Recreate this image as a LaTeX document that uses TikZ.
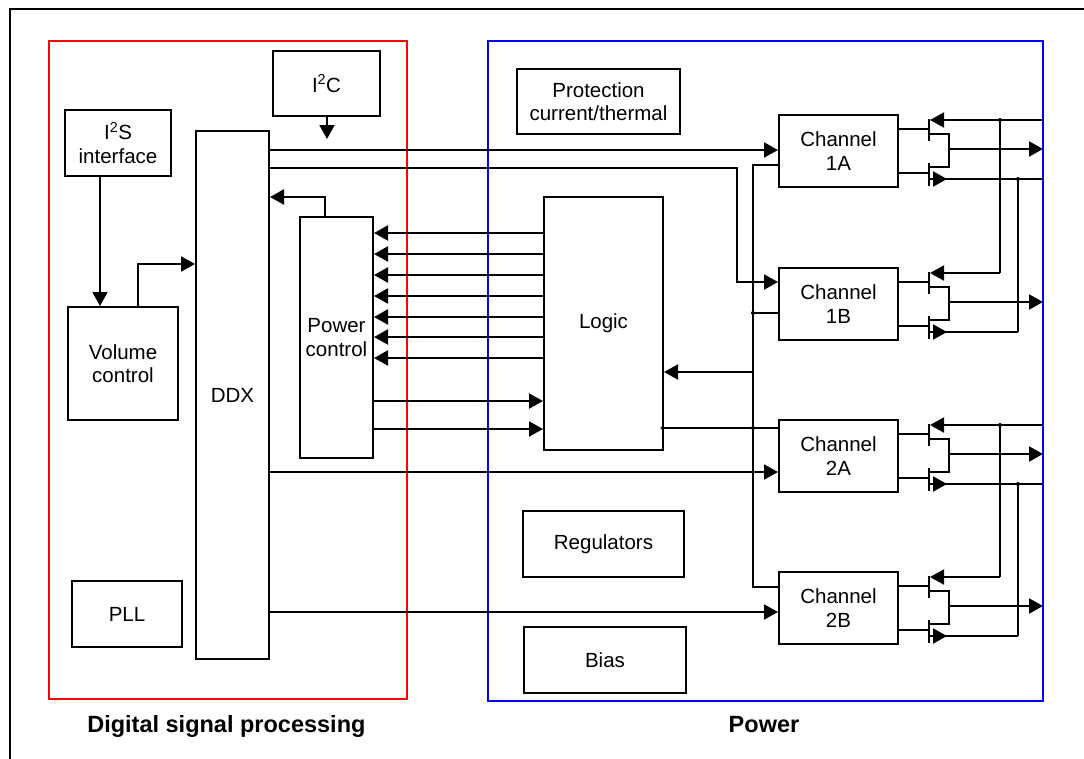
\documentclass[tikz,border=0pt]{standalone}
\usepackage{fontspec}
\setmainfont{Liberation Sans}
\usetikzlibrary{arrows.meta}
\definecolor{dspred}{RGB}{255,0,0}
\definecolor{pwrblue}{RGB}{0,0,255}
\newcommand\bx[6]{\node[box, minimum width={(#4-#2)*1pt}, minimum height={(#5-#3)*1pt}] (#1) at ({(#2+#4)/2},{(#3+#5)/2}) {#6};}
\newcommand\mospair[4]{%
\begin{scope}[shift={(0,#2)}]
 \draw (#1.east |- 0,14) -- (929,14);
 \draw (929,4) -- (929,26);
 \draw[arr] (#3,5) -- (930,5);
 \draw (929,19) -| (949,52) -- (929,52);
 \draw[arr] (949,34) -- (1043,34);
 \draw (#1.east |- 0,58) -- (929,58);
 \draw (929,48) -- (929,71);
 \draw[arr] (930,64) -- (947,64);
 \draw (945,64) -- (#4,64);
\end{scope}}
\begin{document}
\begin{tikzpicture}[x=1pt,y=-1pt, line width=2pt,
  box/.style={draw, line width=2pt, inner sep=0pt, align=center, font=\fontsize{20.5}{23.5}\selectfont},
  arr/.style={-{Triangle[length=14pt,width=15pt]}},
  lbl/.style={font=\bfseries\fontsize{23.5}{28}\selectfont}]
\useasboundingbox (0,0) rectangle (1084,758);
% outer frame
\draw (10,760) -- (10,9) -- (1086,9);
% regions
\draw[dspred] (49,41) rectangle (407,699);
\draw[pwrblue] (488,41) rectangle (1043,701);
\node[lbl, anchor=base] (dsplbl) at (226.4,732) {Digital signal processing};
\node[lbl, anchor=base] (pwrlbl) at (764,732) {Power};
% boxes
\bx{i2c}{273}{51}{380}{116}{I\textsuperscript{2}C}
\bx{i2s}{65}{110}{171}{176}{I\textsuperscript{2}S\\interface}
\bx{vol}{68}{307}{178}{420}{Volume\\control}
\bx{ddx}{196}{131}{269}{659}{DDX}
\bx{pll}{72}{581}{182}{647}{PLL}
\bx{pwr}{300}{217}{373}{458}{Power\\control}
\bx{prot}{517}{69}{680}{134}{Protection\\current/thermal}
\bx{logic}{544}{197}{663}{450}{Logic}
\bx{reg}{523}{511}{684}{577}{Regulators}
\bx{bias}{524}{627}{686}{693}{Bias}
\bx{ch1a}{779}{115}{898}{187}{Channel\\1A}
\bx{ch1b}{779}{268}{898}{340}{Channel\\1B}
\bx{ch2a}{779}{420}{898}{492}{Channel\\2A}
\bx{ch2b}{779}{572}{898}{644}{Channel\\2B}
% DSP connections
\coordinate (i2ctip) at (327,139);
\draw[arr] (i2c.south -| 327,0) -- (i2ctip);
\draw[arr] (i2s.south -| 100,0) -- (vol.north -| 100,0);
\draw[arr] (vol.north -| 138,0) |- (ddx.west |- 0,264);
\draw[arr] (pwr.north -| 325,0) |- (ddx.east |- 0,197);
% DDX to channels
\draw[arr] (ddx.east |- 0,150) -- (ch1a.west |- 0,150);
\draw[arr] (ddx.east |- 0,168) -| (737,282) -- (ch1b.west |- 0,282);
\draw[arr] (ddx.east |- 0,472) -- (ch2a.west |- 0,472);
\draw[arr] (ddx.east |- 0,612) -- (ch2b.west |- 0,612);
% logic <-> power control
\foreach \yy in {233,254,275,296,317,337,358}
  \draw[arr] (logic.west |- 0,\yy) -- (pwr.east |- 0,\yy);
\foreach \yy in {401,429}
  \draw[arr] (pwr.east |- 0,\yy) -- (logic.west |- 0,\yy);
% channel bus
\draw (ch1a.west |- 0,165) -| (753,587) -- (ch2b.west |- 0,587);
\draw (753,313) -- (ch1b.west |- 0,313);
\draw[arr] (753,372) -- (logic.east |- 0,372);
\draw (logic.east |- 0,428) -- (ch2a.west |- 0,428);
\fill (753,313) circle[radius=2pt];
\fill (753,428) circle[radius=2pt];
\fill (662,428) circle[radius=1.6pt];
% output stages
\mospair{ch1a}{115}{1043}{1043}
\mospair{ch1b}{268}{1000}{1018}
\mospair{ch2a}{420}{1043}{1043}
\mospair{ch2b}{572}{1000}{1018}
\draw (1000,120) -- (1000,273);
\draw (1018,179) -- (1018,332);
\draw (1000,425) -- (1000,577);
\draw (1018,484) -- (1018,636);
\fill (1000,120) circle[radius=2pt];
\fill (1018,179) circle[radius=2pt];
\fill (1000,425) circle[radius=2pt];
\fill (1018,484) circle[radius=2pt];
\end{tikzpicture}
\end{document}
